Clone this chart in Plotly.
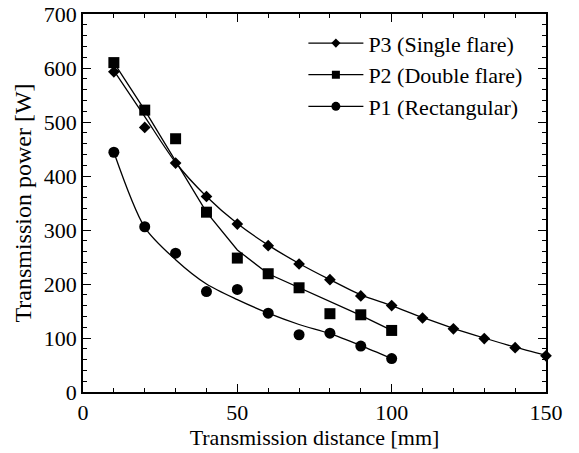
import plotly.graph_objects as go

# Measured data points
x_p3 = [10, 20, 30, 40, 50, 60, 70, 80, 90, 100, 110, 120, 130, 140, 150]
y_p3 = [593, 490, 424, 362, 311, 271, 237, 208, 178, 160, 137, 117, 99, 82, 67]

x_p2 = [10, 20, 30, 40, 50, 60, 70, 80, 90, 100]
y_p2 = [610, 522, 469, 333, 248, 219, 193, 145, 143, 114]

x_p1 = [10, 20, 30, 40, 50, 60, 70, 80, 90, 100]
y_p1 = [444, 306, 257, 186, 190, 146, 106, 109, 85, 62]

# Fitted curves
fx_p3 = [10, 20, 30, 40, 50, 60, 70, 80, 90, 100, 110, 120, 130, 140, 150]
fy_p3 = [595, 510, 425, 362, 312, 272, 238, 208, 180, 160, 138, 118, 100, 83, 68]

fx_p2 = [10, 20, 40, 50, 60, 70, 80, 90, 100]
fy_p2 = [610, 522, 333, 263, 219, 193, 167, 142, 114]

fx_p1 = [10, 20, 30, 40, 50, 60, 70, 80, 90, 100]
fy_p1 = [444, 305, 245, 200, 171, 146, 125, 108, 86, 62]

names = ["P3 (Single flare)", "P2 (Double flare)", "P1 (Rectangular)"]
symbols = ["diamond", "square", "circle"]
sizes = [9, 11, 11]
legend_sizes = [7, 8, 9]

FONT = "Liberation Serif"

fig = go.Figure()
series = [
    (x_p3, y_p3, fx_p3, fy_p3, "spline"),
    (x_p2, y_p2, fx_p2, fy_p2, "linear"),
    (x_p1, y_p1, fx_p1, fy_p1, "spline"),
]
for i, (xs, ys, fx, fy, shape) in enumerate(series):
    g = "g%d" % i
    fig.add_trace(go.Scatter(x=fx, y=fy, mode="lines", line=dict(color="black", width=1.3, shape=shape, smoothing=0.8),
                             showlegend=False, legendgroup=g, cliponaxis=False, hoverinfo="skip"))
    fig.add_trace(go.Scatter(x=xs, y=ys, mode="markers",
                             marker=dict(symbol=symbols[i], size=sizes[i], color="black"),
                             showlegend=False, legendgroup=g, cliponaxis=False))
    fig.add_trace(go.Scatter(x=[None], y=[None], mode="lines+markers", name=names[i], legendgroup=g,
                             line=dict(color="black", width=1.3),
                             marker=dict(symbol=symbols[i], size=legend_sizes[i], color="black")))

axis_common = dict(
    showline=True, linecolor="black", linewidth=1.5, mirror="allticks",
    ticks="inside", ticklen=8, tickwidth=1.3, tickcolor="black",
    showgrid=False, zeroline=False, automargin=False,
    tickfont=dict(family=FONT, size=22, color="black"),
)
fig.update_xaxes(range=[0, 150], dtick=50, tick0=0,
                 minor=dict(dtick=10, ticks="inside", ticklen=4, tickcolor="black", tickwidth=1.2),
                 title=dict(text="Transmission distance [mm]", font=dict(family=FONT, size=22, color="black"), standoff=3),
                 **axis_common)
fig.update_yaxes(range=[0, 700], dtick=100, tick0=0,
                 minor=dict(dtick=20, ticks="inside", ticklen=4, tickcolor="black", tickwidth=1.2),
                 title=dict(text="Transmission power [W]", font=dict(family=FONT, size=24, color="black"), standoff=5),
                 **axis_common)

fig.update_layout(
    width=579, height=453,
    margin=dict(l=83, r=33, t=14, b=60.5, autoexpand=False),
    paper_bgcolor="white", plot_bgcolor="white",
    font=dict(family=FONT, color="black"),
    legend=dict(x=0.476, y=0.978, xanchor="left", yanchor="top", bgcolor="rgba(0,0,0,0)",
                font=dict(family=FONT, size=22, color="black"), tracegroupgap=0, itemwidth=55),
)

fig.write_html("out.html", config={"displayModeBar": False},
               post_script="document.body.style.margin='0';")
